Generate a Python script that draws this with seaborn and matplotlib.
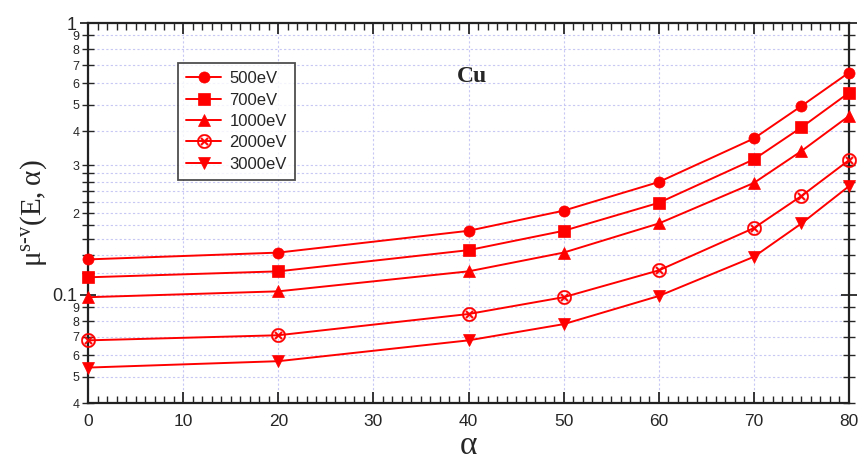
import numpy as np
import pandas as pd
import seaborn as sns
import matplotlib
matplotlib.use("Agg")
import matplotlib.pyplot as plt
from matplotlib.ticker import FixedLocator, FixedFormatter
from matplotlib.lines import Line2D

# ---- data ----
alpha = [0, 20, 40, 50, 60, 70, 75, 80]
mu_500 = [0.135, 0.143, 0.172, 0.204, 0.260, 0.376, 0.495, 0.657]
mu_700 = [0.116, 0.122, 0.146, 0.172, 0.218, 0.315, 0.413, 0.554]
mu_1000 = [0.098, 0.103, 0.122, 0.143, 0.183, 0.258, 0.338, 0.455]
mu_2000 = [0.068, 0.071, 0.085, 0.098, 0.123, 0.176, 0.231, 0.313]
mu_3000 = [0.054, 0.057, 0.068, 0.078, 0.099, 0.138, 0.183, 0.251]
series_names = ["500eV", "700eV", "1000eV", "2000eV", "3000eV"]
series_vals = [mu_500, mu_700, mu_1000, mu_2000, mu_3000]

y_major = [0.1, 1.0]
y_major_labels = ["0.1", "1"]
y_minor = [0.04, 0.05, 0.06, 0.07, 0.08, 0.09, 0.12, 0.14, 0.16, 0.18,
           0.2, 0.22, 0.24, 0.26, 0.28, 0.3, 0.4, 0.5, 0.6, 0.7, 0.8, 0.9]
y_minor_labels = ["4", "5", "6", "7", "8", "9", "", "", "", "",
                  "2", "", "", "", "", "3", "4", "5", "6", "7", "8", "9"]

df = pd.DataFrame({
    "alpha": np.tile(alpha, len(series_names)),
    "mu": np.concatenate(series_vals),
    "E": np.repeat(series_names, len(alpha)),
})

sns.set_style("white")
plt.rcParams["font.family"] = ["Liberation Sans", "DejaVu Sans"]

fig = plt.figure(figsize=(8.61, 4.66), dpi=100)
ax = fig.add_axes([88/861, 1-403/466, (849-88)/861, (403-23)/466])

red = "#ff0000"
markers = {"500eV": "o", "700eV": "s", "1000eV": "^", "2000eV": r"$\otimes$", "3000eV": "v"}
msizes = {"500eV": 8, "700eV": 8, "1000eV": 8.5, "2000eV": 10.5, "3000eV": 8.5}

handles = []
for name in series_names:
    sub = df[df["E"] == name]
    if name == "2000eV":
        kw = dict(marker=markers[name], markersize=msizes[name], markeredgewidth=0.2,
                  markerfacecolor=red, markeredgecolor=red)
    else:
        kw = dict(marker=markers[name], markersize=msizes[name],
                  markerfacecolor=red, markeredgecolor=red, markeredgewidth=0.5)
    sns.lineplot(data=sub, x="alpha", y="mu", ax=ax, color=red, linewidth=1.4,
                 clip_on=False, zorder=5, **kw)
    handles.append(Line2D([], [], color=red, linewidth=1.4, **kw))

ax.set_yscale("log")
ax.set_xlim(0, 80)
ax.set_ylim(0.04, 1.0)

ax.set_xticks(np.arange(0, 81, 10))
ax.set_xticks(np.arange(0, 81, 1), minor=True)
ax.yaxis.set_major_locator(FixedLocator(y_major))
ax.yaxis.set_major_formatter(FixedFormatter(y_major_labels))
ax.yaxis.set_minor_locator(FixedLocator(y_minor))
ax.yaxis.set_minor_formatter(FixedFormatter(y_minor_labels))

ax.tick_params(axis="x", which="major", direction="in", length=8, width=1.3,
               top=True, bottom=True, labelsize=12.5, pad=8)
ax.tick_params(axis="x", which="minor", direction="in", length=5, width=1.0,
               top=True, bottom=True)
ax.tick_params(axis="y", which="major", direction="inout", length=12, width=1.3,
               left=True, right=True, labelsize=13, pad=2)
ax.tick_params(axis="y", which="minor", direction="inout", length=8, width=1.0,
               left=True, right=True, labelsize=9, pad=2)

for s in ax.spines.values():
    s.set_linewidth(1.6)
    s.set_color("#222222")

ax.grid(True, which="major", axis="x", color="#c8c8f5", linestyle=(0, (2, 2)), linewidth=0.8)
ax.grid(True, which="both", axis="y", color="#c8c8f5", linestyle=(0, (2, 2)), linewidth=0.8)
ax.set_axisbelow(True)

serif = ["Liberation Serif", "DejaVu Serif"]
ax.set_xlabel("α", fontsize=24, family=serif, labelpad=1)
ax.set_ylabel("$\\mathregular{μ^{s\u2010v}(E,α)}$", fontsize=21, family=serif, labelpad=2)

ax.text(0.505, 0.86, "Cu", transform=ax.transAxes, fontsize=17, fontweight="bold",
        family=serif, ha="center", va="center")

leg = ax.legend(handles, series_names, loc="upper left", bbox_to_anchor=(0.118, 0.895),
                frameon=True, fancybox=False, fontsize=12, handlelength=2.1,
                handletextpad=0.5, labelspacing=0.38, borderpad=0.5, borderaxespad=0)
leg.get_frame().set_edgecolor("#222222")
leg.get_frame().set_linewidth(1.3)
leg.set_zorder(10)

fig.savefig("out.png", dpi=100)
